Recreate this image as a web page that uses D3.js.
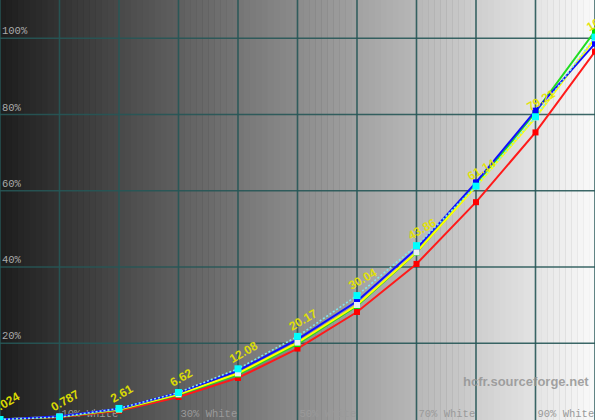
<!DOCTYPE html>
<html>
<head>
<meta charset="utf-8">
<script src="https://cdn.jsdelivr.net/npm/d3@7/dist/d3.min.js"></script>
<style>
html,body{margin:0;padding:0;background:#000;}
svg{display:block;}
</style>
</head>
<body>
<div id="chart"></div>
<script>
// ---- data ----
const levels = [0, 10, 20, 30, 40, 50, 60, 70, 80, 90, 100];
const refGamma = [0, 0.63, 2.9, 7.07, 13.3, 21.8, 32.5, 45.6, 61.2, 79.4, 100.3];
const lumY = [0.024, 0.787, 2.61, 6.62, 12.08, 20.17, 30.04, 43.86, 61.14, 79.2, 100];
const lumLabels = ["0.024", "0.787", "2.61", "6.62", "12.08", "20.17", "30.04", "43.86", "61.14", "79.21", "100"];
const redY = [0.02, 0.62, 2.3, 5.9, 10.9, 18.6, 28.2, 40.8, 57.0, 75.3, 96.5];
const greenY = [0.025, 0.75, 2.55, 6.5, 11.8, 19.8, 29.8, 43.8, 61.4, 80.6, 101.9];
const blueY = [0.03, 0.85, 2.8, 7.0, 12.8, 21.0, 31.0, 44.8, 62.2, 81.0, 98.6];
const yTicks = [20, 40, 60, 80, 100];
const xTicks = [0, 10, 20, 30, 40, 50, 60, 70, 80, 90, 100];
const xLabelLevels = [10, 30, 50, 70, 90];
const watermark = "hcfr.sourceforge.net";

// ---- chart ----
const W = 595, H = 420;
const svg = d3.select("#chart").append("svg").attr("width", W).attr("height", H);

const x = d3.scaleLinear().domain([0, 100]).range([0, 595]);
const y = d3.scaleLinear().domain([0, 100]).range([419.5, 38.25]);

// background grayscale steps
const steps = d3.range(0, 100);
const shade = d3.scaleLinear().domain([0, 99]).range([30, 249]);
svg.append("g").selectAll("rect").data(steps).join("rect")
  .attr("x", d => x(d))
  .attr("y", 0)
  .attr("width", x(1) - x(0) + 0.5)
  .attr("height", H)
  .attr("fill", d => { const v = Math.round(shade(d)); return `rgb(${v},${v},${v})`; });

// grid
const grid = svg.append("g").attr("stroke", "#265656").attr("stroke-opacity", 0.9).attr("stroke-width", 1.6);
grid.selectAll("line.v").data(xTicks).join("line").attr("class", "v")
  .attr("x1", d => x(d)).attr("x2", d => x(d)).attr("y1", 0).attr("y2", H);
grid.selectAll("line.h").data(yTicks).join("line").attr("class", "h")
  .attr("x1", 0).attr("x2", W).attr("y1", d => y(d)).attr("y2", d => y(d));

// axis labels
const mono = "'Liberation Mono','DejaVu Sans Mono',monospace";
svg.append("g").selectAll("text").data(yTicks).join("text")
  .attr("x", 2).attr("y", d => y(d) - 4)
  .attr("font-family", mono).attr("font-size", 10.5).attr("fill", "#ababab")
  .text(d => d + "%");
svg.append("g").selectAll("text").data(xLabelLevels).join("text")
  .attr("x", d => x(d) + 2).attr("y", 416.5)
  .attr("font-family", mono).attr("font-size", 10.5).attr("fill", "#9a9a9a")
  .text(d => d + "% White");

// watermark
svg.append("text").attr("x", 463).attr("y", 386)
  .attr("font-family", "'Liberation Sans',Arial,sans-serif").attr("font-weight", "bold")
  .attr("font-size", 13).attr("fill", "#939393").attr("fill-opacity", 0.85)
  .text(watermark);

// lines
const line = d3.line().x((d, i) => x(levels[i])).y(d => y(d));
const series = [
  {vals: redY, color: "#ff1a1a"},
  {vals: greenY, color: "#22dd22"},
  {vals: lumY, color: "#ffff00"},
  {vals: blueY, color: "#1010ff"}
];
series.forEach(s => {
  svg.append("path").datum(s.vals).attr("d", line)
    .attr("fill", "none").attr("stroke", s.color).attr("stroke-width", 2);
});
svg.append("path").datum(refGamma).attr("d", line)
  .attr("fill", "none").attr("stroke", "#7fe8f0").attr("stroke-width", 1.6)
  .attr("stroke-dasharray", "2,2");

// markers
const markerSets = [
  {vals: redY, color: "#ff0000", s: 6},
  {vals: greenY, color: "#00e000", s: 6},
  {vals: blueY, color: "#0000ff", s: 6},
  {vals: lumY, color: "#e8eef0", s: 6},
  {vals: refGamma, color: "#00ffff", s: 7}
];
markerSets.forEach(m => {
  svg.append("g").selectAll("rect").data(m.vals).join("rect")
    .attr("x", (d, i) => x(levels[i]) - m.s / 2)
    .attr("y", d => y(d) - m.s / 2)
    .attr("width", m.s).attr("height", m.s)
    .attr("fill", m.color);
});

// value labels
svg.append("g").selectAll("text").data(lumY).join("text")
  .attr("transform", (d, i) => `translate(${x(levels[i]) - 5.5},${y(refGamma[i]) - 5.5}) rotate(-30)`)
  .attr("font-family", "'Liberation Sans',Arial,sans-serif").attr("font-weight", "bold")
  .attr("font-size", 12).attr("fill", "#e4e400").attr("fill-opacity", 0.95)
  .text((d, i) => lumLabels[i]);
</script>
</body>
</html>
